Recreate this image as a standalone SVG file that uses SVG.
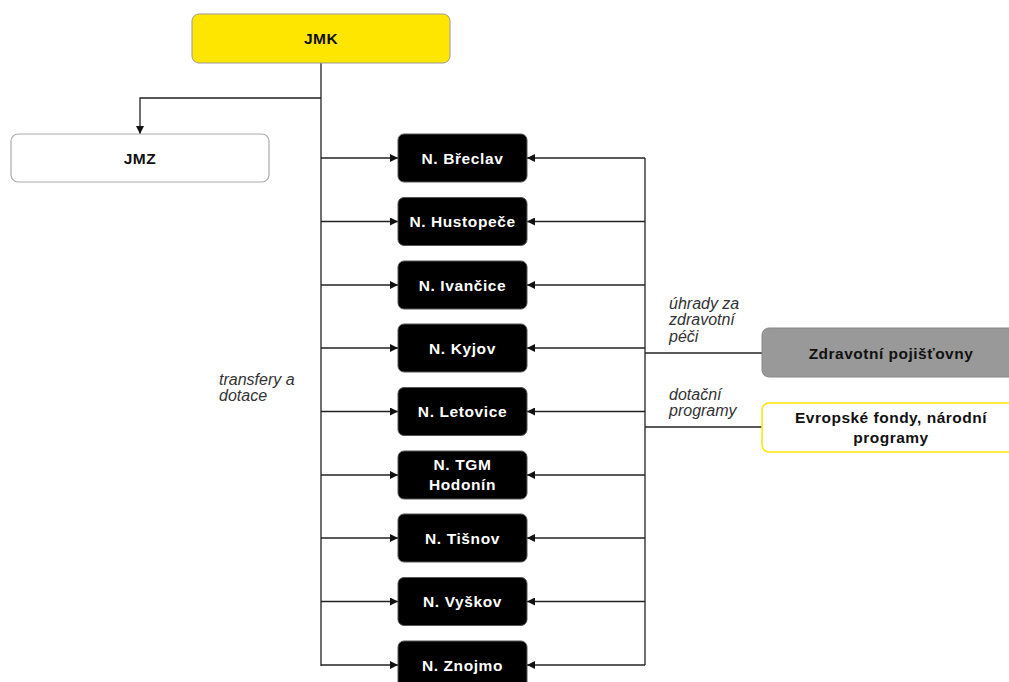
<svg xmlns="http://www.w3.org/2000/svg" width="1009" height="682" viewBox="0 0 1009 682">
<defs>
<marker id="arr" viewBox="0 0 10 10" refX="10" refY="5" markerWidth="8" markerHeight="8" markerUnits="userSpaceOnUse" orient="auto">
<path d="M0,0 L10,5 L0,10 z" fill="#111"/>
</marker>
<style>
.box{fill:#000;stroke:#555;stroke-width:1}
.bt{font-family:"Liberation Sans",Arial,sans-serif;font-weight:bold;font-size:15.5px;letter-spacing:0.6px;fill:#fff;text-anchor:middle}
.dt{font-family:"Liberation Sans",Arial,sans-serif;font-weight:bold;font-size:15.5px;letter-spacing:0.5px;fill:#111;text-anchor:middle}
.lbl{font-family:"Liberation Sans",Arial,sans-serif;font-style:italic;font-size:16px;fill:#333}
.ln{fill:none;stroke:#222;stroke-width:1.3}
.ar{fill:none;stroke:#222;stroke-width:1.3;marker-end:url(#arr)}
</style>
</defs>
<rect width="1009" height="682" fill="#fff"/>
<g id="connectors">
<path class="ln" d="M321,63 V666"/>
<path class="ar" d="M321,98 H140 V134"/>
<path class="ar" d="M321,158 H398"/>
<path class="ar" d="M321,221.5 H398"/>
<path class="ar" d="M321,285 H398"/>
<path class="ar" d="M321,348 H398"/>
<path class="ar" d="M321,411.5 H398"/>
<path class="ar" d="M321,475 H398"/>
<path class="ar" d="M321,538 H398"/>
<path class="ar" d="M321,601.5 H398"/>
<path class="ar" d="M321,665 H398"/>
<path class="ln" d="M645,158 V665"/>
<path class="ar" d="M645,158 H527"/>
<path class="ar" d="M645,221.5 H527"/>
<path class="ar" d="M645,285 H527"/>
<path class="ar" d="M645,348 H527"/>
<path class="ar" d="M645,411.5 H527"/>
<path class="ar" d="M645,475 H527"/>
<path class="ar" d="M645,538 H527"/>
<path class="ar" d="M645,601.5 H527"/>
<path class="ar" d="M645,665 H527"/>
<path class="ln" d="M645,353 H762"/>
<path class="ln" d="M645,427 H762"/>
</g>
<g id="labels">
<text class="lbl" x="219" y="385">transfery a</text>
<text class="lbl" x="219" y="401">dotace</text>
<text class="lbl" x="669" y="309">úhrady za</text>
<text class="lbl" x="669" y="325">zdravotní</text>
<text class="lbl" x="669" y="342">péči</text>
<text class="lbl" x="669" y="400">dotační</text>
<text class="lbl" x="669" y="416">programy</text>
</g>
<g id="jmk"><rect x="192" y="14" width="258" height="49" rx="7" fill="#FFE600" stroke="#999" stroke-width="1"/><text class="dt" x="321" y="44">JMK</text></g>
<g id="jmz"><rect x="11" y="134" width="258" height="48" rx="7" fill="#fff" stroke="#aaa" stroke-width="1.2"/><text class="dt" x="140" y="164">JMZ</text></g>
<g id="n-breclav"><rect class="box" x="398" y="134" width="129" height="48" rx="6"/><text class="bt" x="462.5" y="164">N. Břeclav</text></g>
<g id="n-hustopece"><rect class="box" x="398" y="197.5" width="129" height="48" rx="6"/><text class="bt" x="462.5" y="227">N. Hustopeče</text></g>
<g id="n-ivancice"><rect class="box" x="398" y="261" width="129" height="48" rx="6"/><text class="bt" x="462.5" y="291">N. Ivančice</text></g>
<g id="n-kyjov"><rect class="box" x="398" y="324" width="129" height="48" rx="6"/><text class="bt" x="462.5" y="354">N. Kyjov</text></g>
<g id="n-letovice"><rect class="box" x="398" y="387.5" width="129" height="48" rx="6"/><text class="bt" x="462.5" y="417">N. Letovice</text></g>
<g id="n-tgm-hodonin"><rect class="box" x="398" y="451" width="129" height="48" rx="6"/><text class="bt" x="462.5" y="470">N. TGM</text><text class="bt" x="462.5" y="490">Hodonín</text></g>
<g id="n-tisnov"><rect class="box" x="398" y="514" width="129" height="48" rx="6"/><text class="bt" x="462.5" y="544">N. Tišnov</text></g>
<g id="n-vyskov"><rect class="box" x="398" y="577.5" width="129" height="48" rx="6"/><text class="bt" x="462.5" y="607">N. Vyškov</text></g>
<g id="n-znojmo"><rect class="box" x="398" y="641" width="129" height="48" rx="6"/><text class="bt" x="462.5" y="671">N. Znojmo</text></g>
<g id="zdravotni-pojistovny"><rect x="762" y="328" width="258" height="49" rx="7" fill="#999" stroke="#888" stroke-width="1"/><text class="dt" x="891" y="359">Zdravotní pojišťovny</text></g>
<g id="evropske-fondy"><rect x="762" y="403" width="258" height="49" rx="7" fill="#fff" stroke="#FFE600" stroke-width="1.5"/><text class="dt" x="891" y="423">Evropské fondy, národní</text><text class="dt" x="891" y="443">programy</text></g>
</svg>
